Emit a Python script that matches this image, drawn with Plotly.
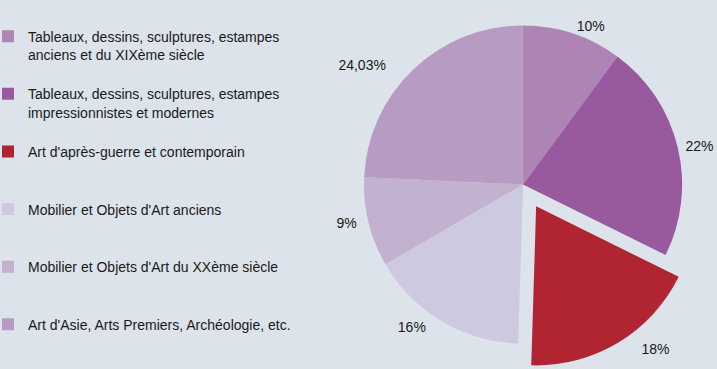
import plotly.graph_objects as go

categories = [
    "Tableaux, dessins, sculptures, estampes<br>anciens et du XIXème siècle",
    "Tableaux, dessins, sculptures, estampes<br>impressionnistes et modernes",
    "Art d'après-guerre et contemporain",
    "Mobilier et Objets d'Art anciens",
    "Mobilier et Objets d'Art du XXème siècle",
    "Art d'Asie, Arts Premiers, Archéologie, etc.",
]
values = [10, 22, 18, 16, 9, 24.03]
value_labels = ["10%", "22%", "18%", "16%", "9%", "24,03%"]
colors = ["#ae84b4", "#98599e", "#b12431", "#cdc9de", "#c2b2d0", "#b89bc3"]
pulls = [0, 0, 0.16, 0, 0, 0]

# pad legend labels (all but the last) to three lines so entries are evenly spaced
legend_labels = []
for i, c in enumerate(categories):
    n = c.count("<br>") + 1
    pad = 0 if i == len(categories) - 1 else 3 - n
    legend_labels.append(c + "<br> " * pad)

# small non-breaking-space padding to push outside labels a little farther out
NB = "\u00a0"
lead = [0, 1, 5, 0, 0, 0]
trail = [0, 0, 0, 3, 2, 6]
slice_text = [NB * l + t + NB * r for t, l, r in zip(value_labels, lead, trail)]

bg = "#dce3ea"
font = "Liberation Sans, Arial, sans-serif"

fig = go.Figure(go.Pie(
    labels=legend_labels,
    values=values,
    text=slice_text,
    textinfo="text",
    textposition="outside",
    automargin=False,
    outsidetextfont=dict(size=14, color="#1a1a1a", family=font),
    marker=dict(colors=colors, line=dict(width=0)),
    sort=False,
    direction="clockwise",
    rotation=0,
    pull=pulls,
    domain=dict(x=[0.472, 0.987], y=[0, 1]),
    showlegend=True,
    hoverinfo="none",
))

fig.update_layout(
    width=717, height=369, autosize=False,
    margin=dict(l=0, r=0, t=0, b=0, pad=0),
    paper_bgcolor=bg, plot_bgcolor=bg,
    font=dict(family=font, size=14, color="#1a1a1a"),
    legend=dict(
        x=0.0, xanchor="left", y=0.944, yanchor="top",
        valign="top", bgcolor="rgba(0,0,0,0)", borderwidth=0,
        indentation=-12,
        font=dict(size=14, color="#1a1a1a", family=font),
        itemclick=False, itemdoubleclick=False,
    ),
)

fig.write_html("out.html", config={"displayModeBar": False},
               post_script="document.body.style.margin='0';")
